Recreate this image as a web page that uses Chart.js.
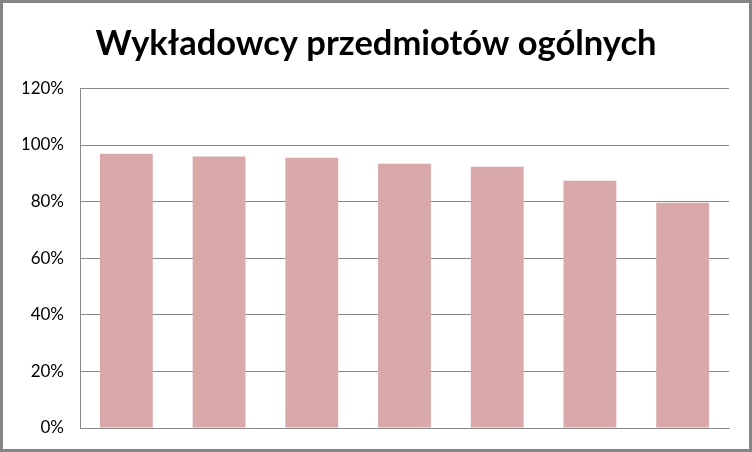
<!DOCTYPE html>
<html lang="pl">
<head>
    <meta charset="UTF-8">
    <title>Wykładowcy przedmiotów ogólnych</title>
    <style>
        body {
            margin: 0;
            background: #fff;
        }
        #frame {
            width: 752px;
            height: 452px;
            box-sizing: border-box;
            border: 3px solid #858585;
            background: #fff;
        }
        #chart {
            display: block;
        }
    </style>
    <script src="https://cdn.jsdelivr.net/npm/chart.js"></script>
</head>
<body>
    <div id="frame">
        <canvas id="chart" width="746" height="446"></canvas>
    </div>

    <script>
        // one bar per lecturer group, labels are not shown on the original
        const categories = ['1', '2', '3', '4', '5', '6', '7'];
        const shares = [96.9, 95.9, 95.5, 93.4, 92.3, 87.4, 79.6];
        const yTicks = [0, 20, 40, 60, 80, 100, 120];

        const ctx = document.getElementById('chart').getContext('2d');
        const chart = new Chart(ctx, {
            type: 'bar',
            data: {
                labels: categories,
                datasets: [{
                    data: shares,
                    backgroundColor: '#d9a9a9',
                    borderWidth: 0,
                    barPercentage: 0.57,
                    categoryPercentage: 1.0
                }]
            },
            options: {
                responsive: false,
                animation: false,
                layout: {
                    padding: { top: 0, right: 20, bottom: 21, left: 20 }
                },
                plugins: {
                    legend: { display: false },
                    tooltip: { enabled: false },
                    title: {
                        display: true,
                        text: 'Wykładowcy przedmiotów ogólnych',
                        color: '#000',
                        font: { family: 'Lato', size: 34.5, weight: 'bold' },
                        padding: { top: 20, bottom: 24 }
                    }
                },
                scales: {
                    x: {
                        ticks: { display: false },
                        grid: { display: false, drawTicks: false },
                        border: { display: true, color: '#888', width: 1 },
                        afterFit: axis => {
                            axis.height = 0;
                        }
                    },
                    y: {
                        min: 0,
                        max: 120,
                        afterBuildTicks: axis => {
                            axis.ticks = yTicks.map(v => ({ value: v }));
                        },
                        afterFit: axis => {
                            axis.width = 57;
                            axis.paddingTop = 0;
                            axis.paddingBottom = 0;
                        },
                        ticks: {
                            color: '#000',
                            padding: 16,
                            font: { family: 'Lato', size: 17 },
                            callback: v => v + '%'
                        },
                        grid: {
                            color: '#8a8a8a',
                            drawTicks: false
                        },
                        border: { display: true, color: '#888', width: 1 }
                    }
                }
            }
        });
    </script>
</body>
</html>
